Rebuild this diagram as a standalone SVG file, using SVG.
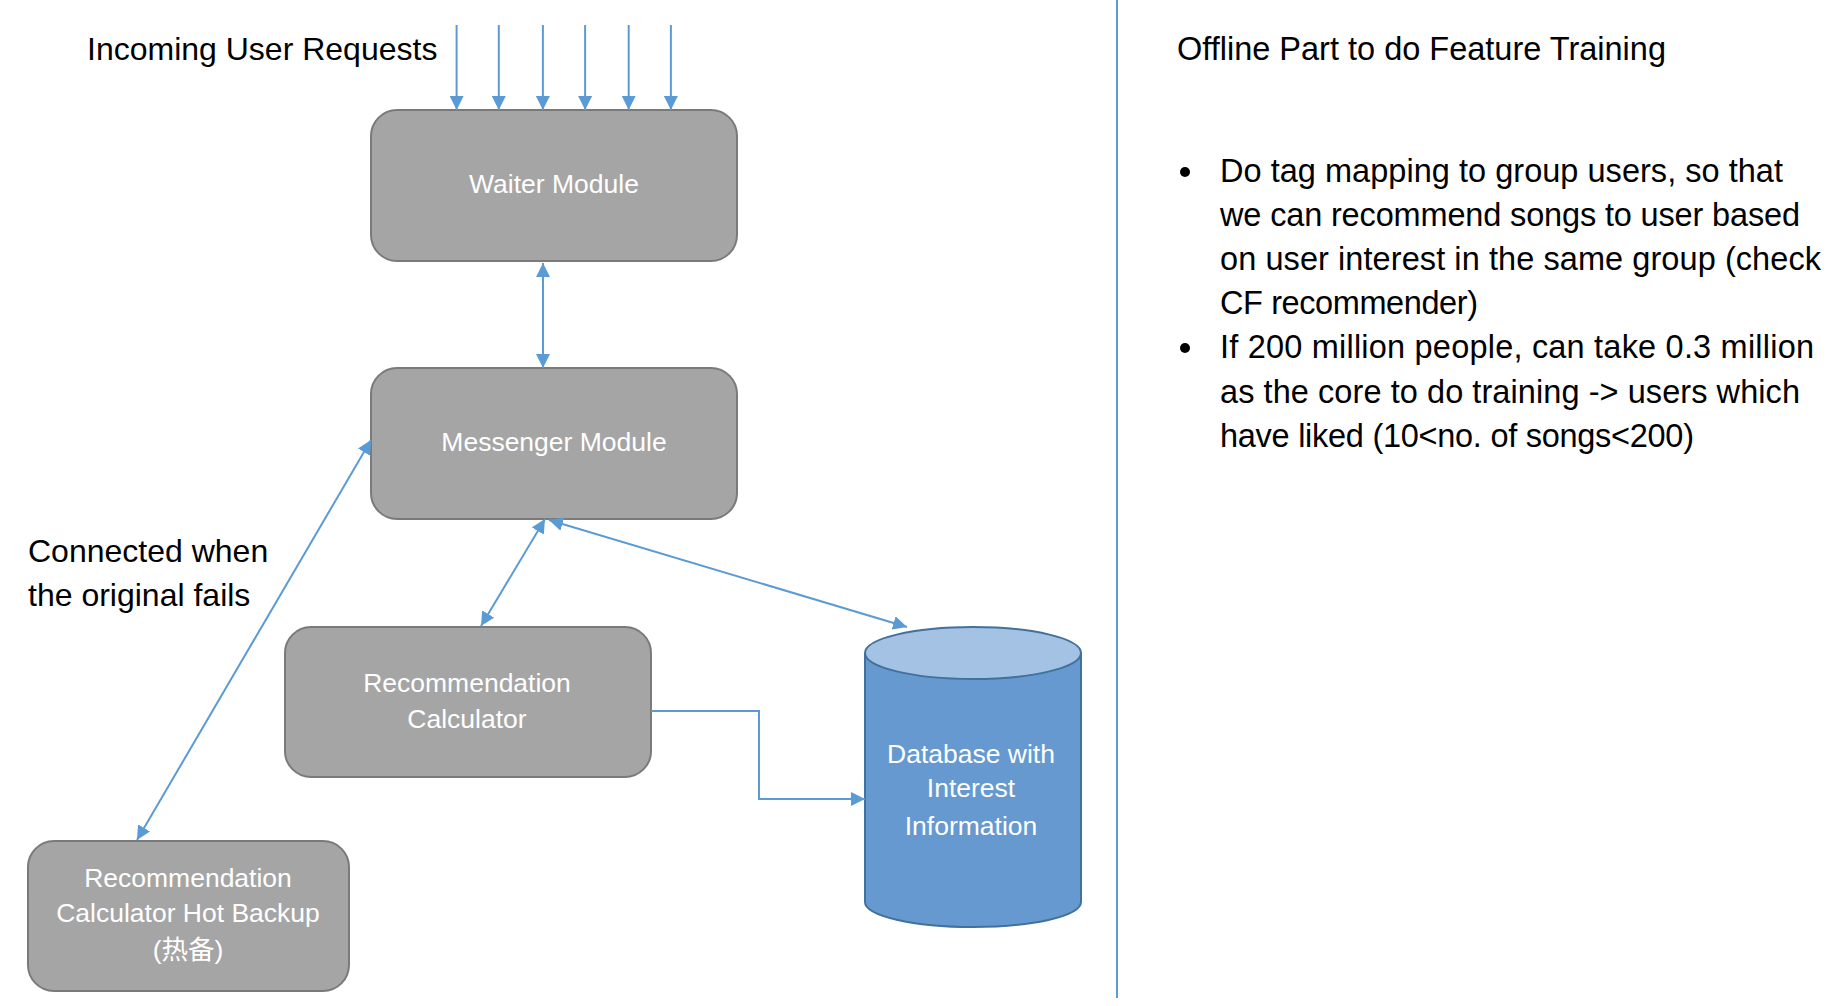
<svg xmlns="http://www.w3.org/2000/svg" width="1836" height="1006" viewBox="0 0 1836 1006">
<style>
.box{fill:#a5a5a5;stroke:#7a7a7a;stroke-width:2}
.btxt{font-family:"Liberation Sans","Noto Sans CJK SC",sans-serif;font-size:26.5px;fill:#ffffff;text-anchor:middle}
.lbl{font-family:"Liberation Sans",sans-serif;font-size:32px;fill:#000000}
.rt{font-family:"Liberation Sans",sans-serif;font-size:32.5px;fill:#000000}
.conn{fill:none;stroke:#5b9bd5;stroke-width:2}
</style>
<defs>
<marker id="ah" viewBox="0 0 10 10" refX="10" refY="5" markerUnits="userSpaceOnUse" markerWidth="14" markerHeight="14" orient="auto-start-reverse">
<path d="M0,0 L10,5 L0,10 z" fill="#5b9bd5"/>
</marker>
</defs>
<rect width="1836" height="1006" fill="#ffffff"/>

<text class="lbl" x="87" y="60">Incoming User Requests</text>
<text class="lbl" x="28" y="562">Connected when</text>
<text class="lbl" x="28" y="606">the original fails</text>

<g id="waiter">
<rect class="box" x="371" y="110" width="366" height="151" rx="26" ry="26"/>
<text class="btxt" x="554" y="193">Waiter Module</text>
</g>
<g id="messenger">
<rect class="box" x="371" y="368" width="366" height="151" rx="26" ry="26"/>
<text class="btxt" x="554" y="451">Messenger Module</text>
</g>
<g id="calculator">
<rect class="box" x="285" y="627" width="366" height="150" rx="26" ry="26"/>
<text class="btxt" x="467" y="692">Recommendation</text>
<text class="btxt" x="467" y="728">Calculator</text>
</g>
<g id="backup">
<rect class="box" x="28" y="841" width="321" height="150" rx="26" ry="26"/>
<text class="btxt" x="188" y="887">Recommendation</text>
<text class="btxt" x="188" y="922">Calculator Hot Backup</text>
<text class="btxt" x="188" y="959">(热备)</text>
</g>
<g id="database">
<path d="M865,653 L865,902 A108,25 0 0 0 1081,902 L1081,653" fill="#6699cf" stroke="#41719c" stroke-width="2"/>
<ellipse cx="973" cy="653" rx="108" ry="26" fill="#a4c2e3" stroke="#41719c" stroke-width="2"/>
<text class="btxt" x="971" y="763">Database with</text>
<text class="btxt" x="971" y="797">Interest</text>
<text class="btxt" x="971" y="835">Information</text>
</g>

<g id="connectors">
<line class="conn" x1="456.6" y1="25" x2="456.6" y2="110" marker-end="url(#ah)"/>
<line class="conn" x1="498.8" y1="25" x2="498.8" y2="110" marker-end="url(#ah)"/>
<line class="conn" x1="542.9" y1="25" x2="542.9" y2="110" marker-end="url(#ah)"/>
<line class="conn" x1="585.1" y1="25" x2="585.1" y2="110" marker-end="url(#ah)"/>
<line class="conn" x1="628.7" y1="25" x2="628.7" y2="110" marker-end="url(#ah)"/>
<line class="conn" x1="670.9" y1="25" x2="670.9" y2="110" marker-end="url(#ah)"/>
<line class="conn" x1="543" y1="263" x2="543" y2="368" marker-start="url(#ah)" marker-end="url(#ah)"/>
<line class="conn" x1="481" y1="626" x2="545" y2="519" marker-start="url(#ah)" marker-end="url(#ah)"/>
<line class="conn" x1="549" y1="520" x2="907" y2="627" marker-start="url(#ah)" marker-end="url(#ah)"/>
<line class="conn" x1="137" y1="840" x2="371" y2="440" marker-start="url(#ah)" marker-end="url(#ah)"/>
<path class="conn" d="M651,711 H759 V799 H865" marker-end="url(#ah)"/>
</g>

<line x1="1117" y1="0" x2="1117" y2="998" stroke="#5b9bd5" stroke-width="2"/>

<text class="rt" x="1177" y="60">Offline Part to do Feature Training</text>
<circle cx="1185" cy="172" r="5" fill="#000000"/>
<circle cx="1185" cy="348" r="5" fill="#000000"/>
<text class="rt" x="1220" y="181.5" textLength="563" lengthAdjust="spacing">Do tag mapping to group users, so that</text>
<text class="rt" x="1220" y="225.7" textLength="580" lengthAdjust="spacing">we can recommend songs to user based</text>
<text class="rt" x="1220" y="269.9" textLength="601" lengthAdjust="spacing">on user interest in the same group (check</text>
<text class="rt" x="1220" y="314.1" textLength="258" lengthAdjust="spacing">CF recommender)</text>
<text class="rt" x="1220" y="358.3" textLength="594" lengthAdjust="spacing">If 200 million people, can take 0.3 million</text>
<text class="rt" x="1220" y="402.5" textLength="580" lengthAdjust="spacing">as the core to do training -&gt; users which</text>
<text class="rt" x="1220" y="446.7" textLength="474" lengthAdjust="spacing">have liked (10&lt;no. of songs&lt;200)</text>
</svg>
